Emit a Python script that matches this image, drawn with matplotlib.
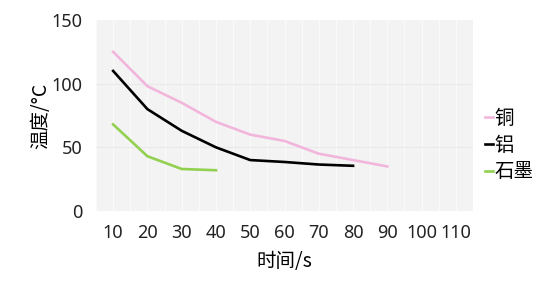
import numpy as np
import matplotlib
matplotlib.use("Agg")
from matplotlib import pyplot as plt

plt.rcParams['font.family'] = ['Noto Sans', 'Noto Sans CJK SC', 'DejaVu Sans']

times = [10, 20, 30, 40, 50, 60, 70, 80, 90, 100, 110]
copper = [125, 98, 85, 70, 60, 55, 45, 40, 35]
aluminium = [110, 80, 63, 50, 40, 38.5, 36.5, 35.5]
graphite = [68, 43, 33, 32]
series = [("铜", copper, "#f2b6dc"),
          ("铝", aluminium, "black"),
          ("石墨", graphite, "#92d050")]

fig = plt.figure(figsize=(5.5, 2.84), dpi=100)
ax = fig.add_axes([96 / 550, 1 - 211 / 284, 377 / 550, 191 / 284])
ax.set_facecolor("#f3f3f3")

x = np.arange(len(times))
for name, vals, color in series:
    ax.plot(x[:len(vals)], vals, color=color, lw=1.9, label=name)

# faint vertical stripes
for b in np.arange(-0.5, len(times), 0.5):
    ax.axvline(b, color="#fafafa", lw=0.8, zorder=0)
for yv in [50, 100]:
    ax.axhline(yv, color="#e9e9e9", lw=0.8, zorder=0)

ax.set_xlim(-0.5, len(times) - 0.5)
ax.set_ylim(0, 150)
ax.set_xticks(x)
ax.set_xticklabels([str(t) for t in times])
ax.set_yticks([0, 50, 100, 150])
ax.tick_params(length=0, labelsize=13, colors="#222222")
ax.tick_params(axis="x", pad=9)
ax.tick_params(axis="y", pad=10)
for s in ax.spines.values():
    s.set_visible(False)

cjk = ['Noto Sans CJK SC', 'DejaVu Sans']
ax.set_xlabel("时间/s", fontsize=14, labelpad=6.5, family=cjk)
ax.set_ylabel("温度/°C", fontsize=14, labelpad=0, family=cjk)

ax.legend(loc="center left", bbox_to_anchor=(1.0, 0.345), frameon=False,
          prop={'family': cjk, 'size': 14},
          handlelength=0.45, handletextpad=0.05, labelspacing=0.3,
          borderaxespad=0.2)

fig.savefig("out.png", dpi=100, facecolor="white")
